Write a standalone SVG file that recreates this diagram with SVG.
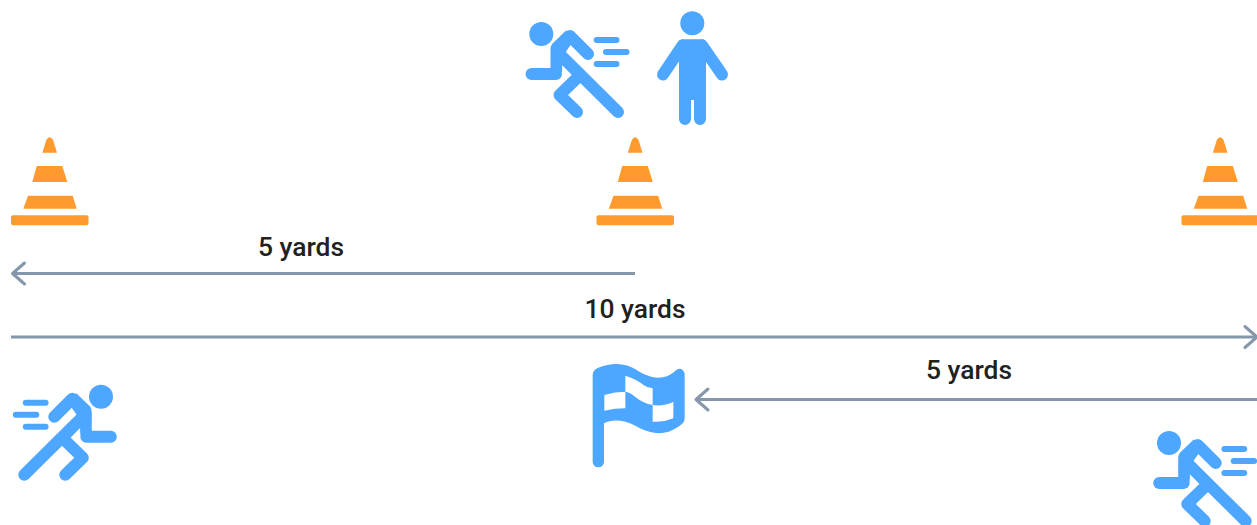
<svg xmlns="http://www.w3.org/2000/svg" width="1257" height="525" viewBox="0 0 1257 525">
<style>
.blue{fill:#4DA6FF}
.limb{fill:none;stroke:#4DA6FF;stroke-linecap:round;stroke-linejoin:round}
.orange{fill:#FF9A2E}
.line{fill:none;stroke:#8497AB;stroke-width:3}
.head{fill:none;stroke:#8497AB;stroke-width:3;stroke-linecap:round;stroke-linejoin:round}
text{font-family:Roboto,"Liberation Sans",sans-serif;font-weight:500;font-size:26.4px;fill:#212121;text-anchor:middle}
</style>
<defs>
<marker id="arrow" markerUnits="userSpaceOnUse" markerWidth="18" markerHeight="28" refX="15" refY="14" orient="auto" overflow="visible">
<path class="head" d="M3,3.5 L15,14 L3,24.5"/>
</marker>
<g id="runner">
<circle class="blue" cx="541.3" cy="34" r="12"/>
<path class="limb" stroke-width="12" d="M570,36 L588,54"/>
<path class="blue" d="M566,30.5 L552,44 Q550.5,46 550.5,50 L550.5,76 L562,72 L562.3,65 L572.5,75.5 L579,68 L565,53 L574,40 Z"/>
<path class="limb" stroke-width="12" d="M561,55.5 L618,112"/>
<path class="limb" stroke-width="12" d="M531.5,74 L556,74"/>
<path class="limb" stroke-width="12" d="M577,78 L559.5,95 L577,112"/>
<path class="limb" stroke-width="6" d="M596.7,40H616.5M606,52H626.5M596.7,64H616.5"/>
</g>
<g id="cone">
<path class="orange" d="M42.3,152.7 L46,141 Q49.7,133.5 53.4,141 L57,152.7 Z"/>
<path class="orange" d="M36.7,166 H62.3 L67.3,182 H32.3 Z"/>
<path class="orange" d="M28,195.7 H72.7 L76.7,208.7 H23.3 Z"/>
<rect class="orange" x="11" y="215.3" width="77.5" height="10" rx="2"/>
</g>
</defs>
<g id="connectors">
<path class="line" marker-end="url(#arrow)" d="M635,273.5 H12.5"/>
<path class="line" marker-end="url(#arrow)" d="M11,337 H1257"/>
<path class="line" marker-end="url(#arrow)" d="M1257,399.5 H696"/>
</g>
<g id="cone-left"><use href="#cone"/></g>
<g id="cone-middle"><use href="#cone" x="585.5"/></g>
<g id="cone-right"><use href="#cone" x="1170.5"/></g>
<g id="runner-top"><use href="#runner"/></g>
<g id="runner-start"><use href="#runner" transform="translate(642.3,362.7) scale(-1,1)"/></g>
<g id="runner-end"><use href="#runner" x="627.7" y="409"/></g>
<g id="person">
<circle class="blue" cx="692.3" cy="23.3" r="12"/>
<path class="blue" d="M683,39.3 H702 Q705.7,39.3 706,43 V100 H679 V43 Q679.3,39.3 683,39.3 Z"/>
<path class="limb" stroke-width="12" d="M682.5,45.5 L663,74.5 M702,45.5 L722,74.5"/>
<path class="limb" stroke-width="12" d="M685,85 V119 M700,85 V119"/>
</g>
<g id="flag">
<path class="blue" transform="translate(580,355) scale(.3333)" fill-rule="evenodd" d="M38,60 Q38,45 55,38 C100,20 140,25 170,45 C210,70 250,80 285,48 Q305,32 314,55 L314,190 Q314,205 295,215 C260,240 220,240 180,220 C140,195 100,190 72,205 L72,320 A17,17 0 0 1 38,320 Z M73,120 Q105,110 136,110 V160 Q105,160 73,167 Z M136,62 Q175,75 190,90 Q205,100 218,100 V150 Q190,145 165,125 Q150,112 136,110 Z M218,150 Q250,155 280,140 V190 Q250,203 218,200 Z"/>
</g>
<text x="301" y="256">5 yards</text>
<text x="635" y="318">10 yards</text>
<text x="969" y="379">5 yards</text>
</svg>
